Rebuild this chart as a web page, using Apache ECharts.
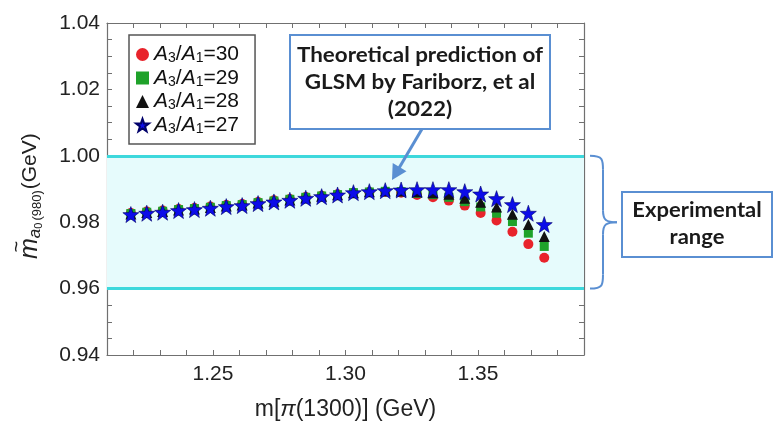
<!DOCTYPE html>
<html><head><meta charset="utf-8">
<script src="https://cdn.jsdelivr.net/npm/echarts@6/dist/echarts.min.js"></script>
<style>html,body{margin:0;padding:0;background:#fff}#c{width:775px;height:426px}</style>
</head><body><div id="c"></div>
<script>
// ---- data ----
const massPi1300 = [1.219,1.225,1.231,1.237,1.243,1.249,1.255,1.261,1.267,1.273,1.279,1.285,1.291,1.297,1.303,1.309,1.315,1.321,1.327,1.333,1.339,1.345,1.351,1.357,1.363,1.369,1.375];
const ratio30 = [0.9828,0.9832,0.9835,0.9840,0.9843,0.9847,0.9852,0.9855,0.9861,0.9866,0.9870,0.9876,0.9880,0.9884,0.9889,0.9891,0.9892,0.9889,0.9882,0.9875,0.9865,0.9850,0.9828,0.9805,0.9771,0.9734,0.9693];
const ratio29 = [0.9826,0.9830,0.9833,0.9838,0.9841,0.9845,0.9850,0.9853,0.9859,0.9864,0.9869,0.9875,0.9879,0.9883,0.9889,0.9891,0.9893,0.9892,0.9887,0.9883,0.9875,0.9862,0.9846,0.9827,0.9802,0.9767,0.9727];
const ratio28 = [0.9825,0.9829,0.9832,0.9837,0.9840,0.9844,0.9849,0.9852,0.9858,0.9863,0.9867,0.9873,0.9878,0.9883,0.9889,0.9892,0.9894,0.9894,0.9892,0.9889,0.9884,0.9872,0.9860,0.9846,0.9824,0.9793,0.9757];
const ratio27 = [0.9823,0.9827,0.9830,0.9835,0.9838,0.9842,0.9847,0.9850,0.9856,0.9861,0.9866,0.9872,0.9877,0.9882,0.9889,0.9892,0.9895,0.9897,0.9898,0.9898,0.9898,0.9892,0.9885,0.9871,0.9853,0.9827,0.9793];
const seriesNames = ['30','29','28','27'];
const expRange = [0.96, 1.00];
const xTickLabels = ['1.25','1.30','1.35'];
const yTickLabels = ['0.94','0.96','0.98','1.00','1.02','1.04'];

const STAR = 'path://M0,-10 L2.35,-3.24 L9.51,-3.09 L3.8,1.24 L5.88,8.09 L0,4 L-5.88,8.09 L-3.8,1.24 L-9.51,-3.09 L-2.35,-3.24 Z';
const FONT = 'Liberation Sans';
const AX = '#707070';
const BLUE_ANN = '#5a8fd2';

function pairs(ys){ return massPi1300.map((x,i)=>[x,ys[i]]); }

const chart = echarts.init(document.getElementById('c'), null, {renderer:'canvas'});
const tickCommon = {show:true, inside:true, length:5, lineStyle:{color:AX, width:1}};
const lineCommon = {show:true, onZero:false, lineStyle:{color:AX, width:1.2}};

const option = {
  animation:false,
  backgroundColor:'#ffffff',
  grid:{left:107, top:23, right:191, bottom:71, containLabel:false},
  legend:{
    orient:'vertical', left:129, top:35,
    data:seriesNames,
    itemWidth:13, itemHeight:13, itemGap:2,
    padding:[9,16,8,6],
    borderColor:'#555', borderWidth:1.5, backgroundColor:'#fff',
    formatter:(n)=>'{i|A}{s|3}{n|/}{i|A}{s|1}{n|='+n+'}',
    textStyle:{fontFamily:FONT, color:'#111', fontSize:21,
      rich:{
        i:{fontFamily:FONT, fontStyle:'italic', fontSize:21, color:'#111', lineHeight:22, verticalAlign:'middle'},
        n:{fontFamily:FONT, fontSize:21, color:'#111', lineHeight:22, verticalAlign:'middle'},
        s:{fontFamily:FONT, fontSize:14, color:'#111', lineHeight:9, verticalAlign:'bottom'}
      }}
  },
  xAxis:[{
    type:'value', min:1.21, max:1.39, interval:0.01,
    axisLine:lineCommon, axisTick:tickCommon, splitLine:{show:false},
    axisLabel:{show:true, fontFamily:FONT, fontSize:21, color:'#222', margin:9,
      formatter:(v)=>{const s=v.toFixed(2); return xTickLabels.indexOf(s)>=0?s:'';}},
    name:'{n|m[}{p|π}{n|(1300)] (GeV)}', nameLocation:'middle', nameGap:43,
    nameTextStyle:{fontFamily:FONT, fontSize:23, color:'#222',
      rich:{n:{fontFamily:FONT,fontSize:23,color:'#222'}, p:{fontFamily:FONT,fontSize:23,fontStyle:'italic',color:'#222'}}}
  },{
    type:'value', position:'top', min:1.21, max:1.39, interval:0.01,
    axisLine:lineCommon, axisTick:tickCommon, axisLabel:{show:false}, splitLine:{show:false}
  }],
  yAxis:[{
    type:'value', min:0.94, max:1.04, interval:0.005,
    axisLine:lineCommon, axisTick:tickCommon, splitLine:{show:false},
    axisLabel:{show:true, fontFamily:FONT, fontSize:21, color:'#222', margin:7,
      formatter:(v)=>{const s=v.toFixed(2); return (yTickLabels.indexOf(s)>=0 && Math.abs(v-parseFloat(s))<1e-6)?s:'';}}
  },{
    type:'value', position:'right', min:0.94, max:1.04, interval:0.005,
    axisLine:lineCommon, axisTick:tickCommon, axisLabel:{show:false}, splitLine:{show:false}
  }],
  series:[
    {name:'30', type:'scatter', data:pairs(ratio30), symbol:'circle', symbolSize:10,
     itemStyle:{color:'#e8232b', opacity:1}, z:3,
     markArea:{silent:true, itemStyle:{color:'#e6fbfc'}, data:[[{yAxis:expRange[0]},{yAxis:expRange[1]}]]},
     markLine:{silent:true, symbol:'none', label:{show:false}, lineStyle:{color:'#3dd8dc', width:3, type:'solid'},
       data:[{yAxis:expRange[0]},{yAxis:expRange[1]}]}},
    {name:'29', type:'scatter', data:pairs(ratio29), symbol:'rect', symbolSize:9,
     itemStyle:{color:'#1fa22a', opacity:1}, z:4},
    {name:'28', type:'scatter', data:pairs(ratio28), symbol:'triangle', symbolSize:11,
     itemStyle:{color:'#111111', opacity:1}, z:5},
    {name:'27', type:'scatter', data:pairs(ratio27), symbol:STAR, symbolSize:16,
     itemStyle:{color:'#0c0ce8', borderColor:'#00006a', borderWidth:0.6, opacity:1}, z:6}
  ]
};
chart.setOption(option);

// annotations
const yTop = chart.convertToPixel({yAxisIndex:0}, expRange[1]);
const yBot = chart.convertToPixel({yAxisIndex:0}, expRange[0]);
const yMid = (yTop+yBot)/2;
const bx0 = 590, bx1 = 603, bx2 = 617;
const bs = {fill:'none', stroke:BLUE_ANN, lineWidth:2};
const braceParts = [
  {type:'bezierCurve', z:100, shape:{x1:bx0,y1:yTop,x2:bx1,y2:yTop+14,cpx1:bx1,cpy1:yTop,cpx2:bx1,cpy2:yTop+4}, style:bs},
  {type:'line', z:100, shape:{x1:bx1,y1:yTop+14,x2:bx1,y2:yMid-12}, style:bs},
  {type:'bezierCurve', z:100, shape:{x1:bx1,y1:yMid-12,x2:bx2,y2:yMid,cpx1:bx1,cpy1:yMid-2,cpx2:bx1+3,cpy2:yMid}, style:bs},
  {type:'bezierCurve', z:100, shape:{x1:bx2,y1:yMid,x2:bx1,y2:yMid+12,cpx1:bx1+3,cpy1:yMid,cpx2:bx1,cpy2:yMid+2}, style:bs},
  {type:'line', z:100, shape:{x1:bx1,y1:yMid+12,x2:bx1,y2:yBot-14}, style:bs},
  {type:'bezierCurve', z:100, shape:{x1:bx1,y1:yBot-14,x2:bx0,y2:yBot,cpx1:bx1,cpy1:yBot-4,cpx2:bx1,cpy2:yBot}, style:bs}
];

// arrow
const ax0=422, ay0=129, ax1=392, ay1=180;
const dx=ax1-ax0, dy=ay1-ay0, L=Math.hypot(dx,dy), ux=dx/L, uy=dy/L, px=-uy, py=ux;
const hl=15, hw=8;
const bxp=ax1-ux*hl, byp=ay1-uy*hl;

// rotated y-axis title
const yTitleMid = (chart.convertToPixel({yAxisIndex:0}, 1.04) + chart.convertToPixel({yAxisIndex:0}, 0.94))/2;
const yTitle = {
  type:'group', x:30, y:yTitleMid+70, rotation:Math.PI/2, z:100,
  children:[
    {type:'text', x:0, y:0, style:{
      text:'{m|m}{a|a}{z|0}{s|(980)}{g|(GeV)}', x:0, y:0, align:'left', verticalAlign:'middle',
      rich:{
        m:{fontFamily:FONT, fontStyle:'italic', fontSize:25, fill:'#222', lineHeight:28, verticalAlign:'middle'},
        a:{fontFamily:FONT, fontStyle:'italic', fontSize:17, fill:'#222', lineHeight:12, verticalAlign:'bottom'},
        z:{fontFamily:FONT, fontSize:11, fill:'#222', lineHeight:4, verticalAlign:'bottom'},
        s:{fontFamily:FONT, fontSize:13, fill:'#222', lineHeight:16, verticalAlign:'bottom', padding:[0,1,0,2]},
        g:{fontFamily:FONT, fontSize:21, fill:'#222', lineHeight:28, verticalAlign:'middle'}
      }}},
    {type:'text', x:0, y:0, style:{text:'~', x:12, y:-13, align:'center', verticalAlign:'middle',
      font:'italic 20px Liberation Sans', fill:'#222'}}
  ]
};

chart.setOption({graphic:[
  {type:'rect', z:100, shape:{x:290,y:35,width:260,height:94}, style:{fill:'#fff', stroke:BLUE_ANN, lineWidth:2}},
  {type:'text', z:101, x:420, y:82.5, scaleX:1.12, style:{text:'Theoretical prediction of\nGLSM by Fariborz, et al\n(2022)', x:0, y:0,
     align:'center', verticalAlign:'middle', font:'bold 20px Lato', lineHeight:27, fill:'#1a1a1a'}},
  {type:'line', z:100, shape:{x1:ax0,y1:ay0,x2:bxp+ux*2,y2:byp+uy*2}, style:{stroke:BLUE_ANN, lineWidth:3}},
  {type:'polygon', z:100, shape:{points:[[ax1,ay1],[bxp+px*hw,byp+py*hw],[bxp-px*hw,byp-py*hw]]}, style:{fill:BLUE_ANN}},
  ...braceParts,
  {type:'rect', z:100, shape:{x:622,y:192,width:150,height:65}, style:{fill:'#fff', stroke:BLUE_ANN, lineWidth:2}},
  {type:'text', z:101, x:697, y:224.5, scaleX:1.1, style:{text:'Experimental\nrange', x:0, y:0,
     align:'center', verticalAlign:'middle', font:'bold 20px Lato', lineHeight:27, fill:'#1a1a1a'}},
  yTitle
]});
</script></body></html>
